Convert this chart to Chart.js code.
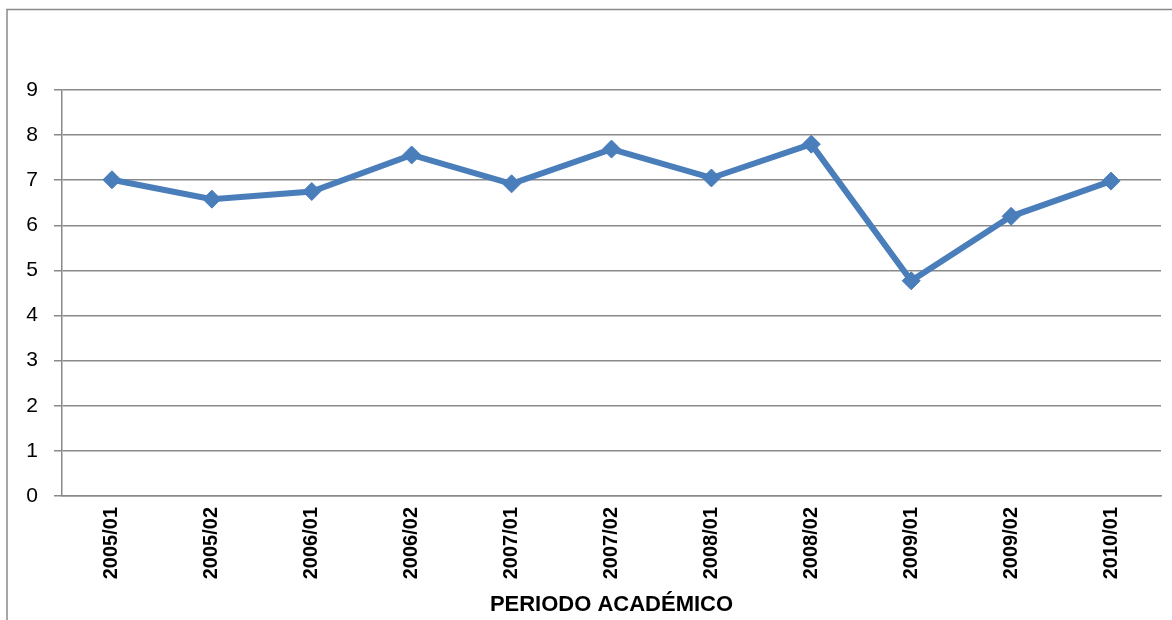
<!DOCTYPE html>
<html>
<head>
<meta charset="utf-8">
<script src="https://cdn.jsdelivr.net/npm/chart.js@4/dist/chart.umd.min.js"></script>
<style>
  html, body { margin: 0; padding: 0; background: #fff; }
  #grafico { display: block; }
</style>
</head>
<body>
<canvas id="grafico" width="1172" height="620"></canvas>
<script>
// periodos academicos y promedio
const periodos = ['2005/01', '2005/02', '2006/01', '2006/02', '2007/01', '2007/02',
                  '2008/01', '2008/02', '2009/01', '2009/02', '2010/01'];
const promedios = [7.01, 6.58, 6.75, 7.56, 6.92, 7.69, 7.05, 7.80, 4.77, 6.20, 6.98];
const yMin = 0;
const yMax = 9;
const tituloX = 'PERIODO ACADÉMICO';

const gris = '#898989';
const azul = '#4A7EBB';

// marco del grafico (borde izquierdo y superior)
const marco = {
    id: 'marco',
    beforeDraw(chart) {
        const c = chart.ctx;
        c.save();
        c.strokeStyle = gris;
        c.lineWidth = 1.5;
        c.beginPath();
        c.moveTo(7, 620);
        c.lineTo(7, 9.5);
        c.lineTo(1172, 9.5);
        c.stroke();
        c.restore();
    }
};

let context = document.getElementById('grafico').getContext('2d');
let grafico = new Chart(context, {
    type: 'line',
    data: {
        labels: periodos,
        datasets: [{
            data: promedios,
            borderColor: azul,
            backgroundColor: azul,
            borderWidth: 6,
            pointStyle: 'rectRot',
            pointRadius: 9,
            pointHoverRadius: 9,
            pointBackgroundColor: azul,
            pointBorderColor: azul,
            pointBorderWidth: 1,
            tension: 0
        }]
    },
    options: {
        responsive: false,
        animation: false,
        layout: { padding: { top: 90, right: 11, left: 0, bottom: 0 } },
        plugins: {
            legend: { display: false },
            tooltip: { enabled: false }
        },
        scales: {
            x: {
                offset: true,
                grid: { display: false, drawTicks: false },
                border: { display: true, color: gris, width: 1.5 },
                ticks: {
                    color: '#000',
                    font: { family: 'Liberation Sans', size: 20, weight: 'bold' },
                    minRotation: 90,
                    maxRotation: 90,
                    padding: 11,
                    autoSkip: false
                },
                title: {
                    display: true,
                    text: tituloX,
                    color: '#000',
                    font: { family: 'Liberation Sans', size: 22, weight: 'bold' },
                    padding: { top: 2, bottom: 2 }
                },
                afterFit(scale) { scale.height = 124; }
            },
            y: {
                min: yMin,
                max: yMax,
                grid: { color: gris, lineWidth: 1.5, tickLength: 8, drawTicks: true },
                border: { display: true, color: gris, width: 1.5 },
                ticks: {
                    stepSize: 1,
                    color: '#000',
                    font: { family: 'Liberation Sans', size: 21 },
                    padding: 16
                },
                afterFit(scale) { scale.width = 62; }
            }
        }
    },
    plugins: [marco]
});
</script>
</body>
</html>
